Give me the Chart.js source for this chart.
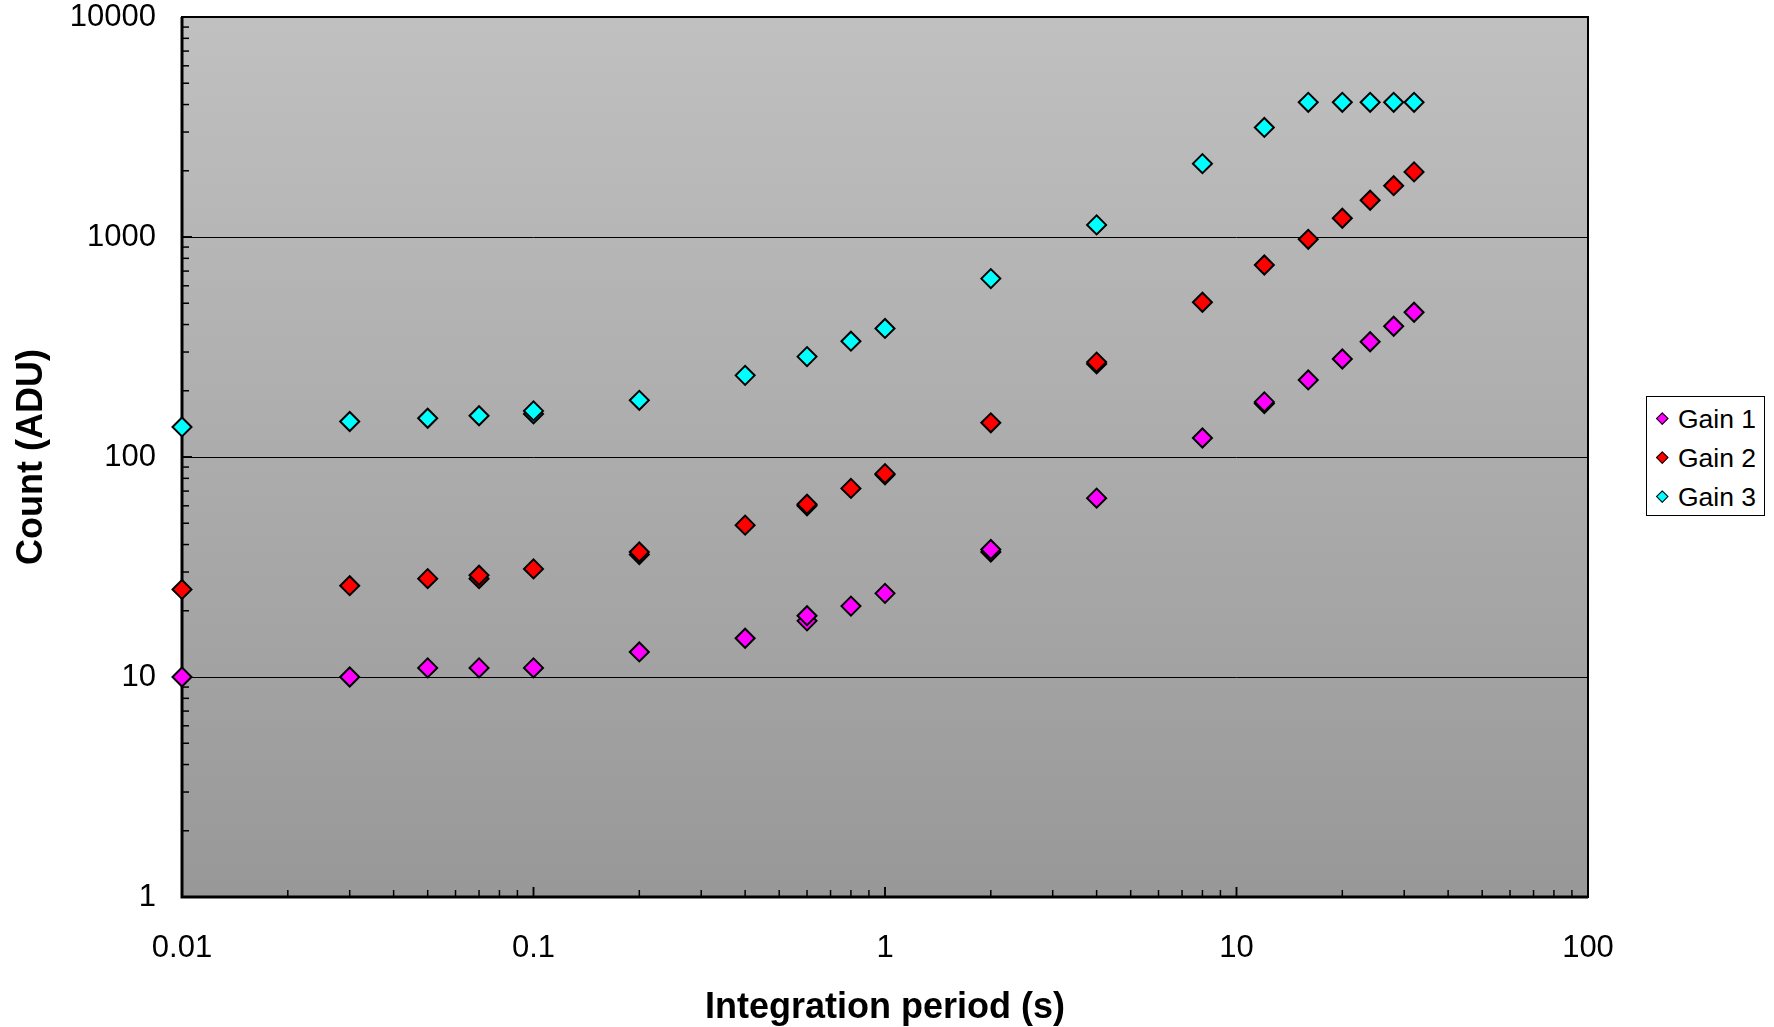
<!DOCTYPE html>
<html>
<head>
<meta charset="utf-8">
<script src="https://cdn.jsdelivr.net/npm/chart.js@4.4.1/dist/chart.umd.min.js"></script>
<style>
  html, body { margin: 0; padding: 0; background: #fff; }
  #wrap { position: relative; width: 1774px; height: 1027px; }
  #legend {
    position: absolute; left: 1646px; top: 396px; width: 119px; height: 120px;
    border: 1px solid #000; background: #fff; box-sizing: border-box;
    font-family: "Liberation Sans", Arial, sans-serif; font-size: 26.5px; color: #000;
  }
  .item { position: absolute; left: 0; height: 30px; line-height: 30px; white-space: nowrap; }
  .item span.mark {
    position: absolute; left: 11px; top: 10px; width: 6.5px; height: 6.5px;
    border: 1.6px solid #000; transform: rotate(45deg);
  }
  .item span.lbl { position: absolute; left: 31px; top: 0; }
</style>
</head>
<body>
<div id="wrap">
  <canvas id="chart" width="1774" height="1027"></canvas>
  <div id="legend"></div>
</div>
<script>
/* ===== DATA ===== */
const periods = [0.01, 0.03, 0.05, 0.07, 0.1, 0.2, 0.4, 0.6, 0.8, 1, 2, 4, 8, 12, 16, 20, 24, 28, 32];
const gain1   = [10, 10, 11, 11, 11, 13, 15, 18, 21, 24, 37, 65, 122, 175, 224, 279, 334, 393, 455];
const gain2   = [25, 26, 28, 28, 31, 36, 49, 60, 72, 83, 143, 265, 505, 746, 976, 1217, 1469, 1711, 1977];
const gain3   = [137, 145, 150, 154, 157, 181, 235, 286, 336, 384, 647, 1135, 2155, 3148, 4095, 4095, 4095, 4095, 4095];

// repeat readings (show up as doubled markers)
const repPeriods1 = [0.6, 2, 12];
const repGain1    = [19, 38, 178];
const repPeriods2 = [0.07, 0.2, 0.6, 1, 4];
const repGain2    = [29, 37, 61, 84, 270];
const repPeriods3 = [0.1];
const repGain3    = [162];

const seriesNames  = ['Gain 1', 'Gain 2', 'Gain 3'];
const seriesColors = ['#ff00ff', '#ff0000', '#00ffff'];

const xTicks = [0.01, 0.1, 1, 10, 100];
const yTicks = [1, 10, 100, 1000, 10000];

function toPoints(xs, ys) { return xs.map((x, i) => ({ x: x, y: ys[i] })); }

const FONT = '"Liberation Sans", Arial, sans-serif';

function decadeLabel(v) {
  const l = Math.log10(v);
  if (Math.abs(l - Math.round(l)) > 1e-6) return '';
  return String(Number(v.toPrecision(6)));
}

/* plot background, gridlines, inside ticks, frame */
const plotFrame = {
  id: 'plotFrame',
  beforeDatasetsDraw(chart) {
    const { ctx, chartArea: a, scales } = chart;
    ctx.save();
    const g = ctx.createLinearGradient(0, a.top, 0, a.bottom);
    g.addColorStop(0, '#c0c0c0');
    g.addColorStop(1, '#989898');
    ctx.fillStyle = g;
    ctx.fillRect(a.left, a.top, a.right - a.left, a.bottom - a.top);

    ctx.strokeStyle = '#000';
    ctx.lineWidth = 1;
    yTicks.slice(1, -1).forEach(v => {
      const y = Math.round(scales.y.getPixelForValue(v)) + 0.5;
      ctx.beginPath(); ctx.moveTo(a.left, y); ctx.lineTo(a.right, y); ctx.stroke();
    });

    ctx.lineWidth = 1.5;
    for (let d = 0.01; d < 100; d *= 10) {
      for (let m = 1; m <= 10; m++) {
        const x = scales.x.getPixelForValue(d * m);
        const len = (m === 1 || m === 10) ? 10 : 7;
        ctx.beginPath(); ctx.moveTo(x, a.bottom); ctx.lineTo(x, a.bottom - len); ctx.stroke();
      }
    }
    for (let d = 1; d < 10000; d *= 10) {
      for (let m = 1; m <= 10; m++) {
        const y = scales.y.getPixelForValue(d * m);
        const len = (m === 1 || m === 10) ? 10 : 7;
        ctx.beginPath(); ctx.moveTo(a.left, y); ctx.lineTo(a.left + len, y); ctx.stroke();
      }
    }

    ctx.lineWidth = 2;
    ctx.strokeRect(a.left, a.top, a.right - a.left, a.bottom - a.top);
    ctx.lineWidth = 3;
    ctx.beginPath();
    ctx.moveTo(a.left, a.top); ctx.lineTo(a.left, a.bottom); ctx.lineTo(a.right, a.bottom);
    ctx.stroke();
    ctx.restore();
  }
};

const datasets = [
  { label: seriesNames[0], data: toPoints(periods, gain1).concat(toPoints(repPeriods1, repGain1)) },
  { label: seriesNames[1], data: toPoints(periods, gain2).concat(toPoints(repPeriods2, repGain2)) },
  { label: seriesNames[2], data: toPoints(periods, gain3).concat(toPoints(repPeriods3, repGain3)) }
].map((ds, i) => Object.assign(ds, {
  backgroundColor: seriesColors[i],
  borderColor: '#000',
  borderWidth: 2,
  pointStyle: 'rectRot',
  pointRadius: 9.5,
  pointHoverRadius: 9.5,
  showLine: false,
  clip: false
}));

new Chart(document.getElementById('chart'), {
  type: 'scatter',
  data: { datasets: datasets },
  options: {
    responsive: false,
    animation: false,
    layout: { padding: { top: 17, right: 186, left: 0, bottom: 0 } },
    plugins: { legend: { display: false }, tooltip: { enabled: false } },
    scales: {
      x: {
        type: 'logarithmic', min: 0.01, max: 100,
        afterFit: s => { s.height = 130; s.paddingLeft = 0; s.paddingRight = 0; },
        afterBuildTicks: s => { s.ticks = xTicks.map(v => ({ value: v })); },
        grid: { display: false, drawTicks: false },
        border: { display: false },
        ticks: {
          autoSkip: false, maxRotation: 0, padding: 33, color: '#000',
          font: { family: FONT, size: 31 },
          callback: v => decadeLabel(v)
        },
        title: {
          display: true, text: 'Integration period (s)', color: '#000',
          font: { family: FONT, size: 36, weight: 'bold' },
          padding: { top: 0, bottom: -3 }
        }
      },
      y: {
        type: 'logarithmic', min: 1, max: 10000,
        afterFit: s => { s.width = 182; s.paddingTop = 0; s.paddingBottom = 0; },
        afterBuildTicks: s => { s.ticks = yTicks.map(v => ({ value: v })); },
        grid: { display: false, drawTicks: false },
        border: { display: false },
        ticks: {
          autoSkip: false, padding: 26, color: '#000',
          font: { family: FONT, size: 31 },
          callback: v => decadeLabel(v)
        },
        title: {
          display: true, text: 'Count (ADU)', color: '#000',
          font: { family: FONT, size: 36, weight: 'bold' },
          padding: { top: 10, bottom: 0 }
        }
      }
    }
  },
  plugins: [plotFrame]
});

/* legend box */
const legendEl = document.getElementById('legend');
seriesNames.forEach((name, i) => {
  const item = document.createElement('div');
  item.className = 'item';
  item.style.top = (7 + i * 39) + 'px';
  item.innerHTML = '<span class="mark" style="background:' + seriesColors[i] + '"></span><span class="lbl">' + name + '</span>';
  legendEl.appendChild(item);
});
</script>
</body>
</html>
